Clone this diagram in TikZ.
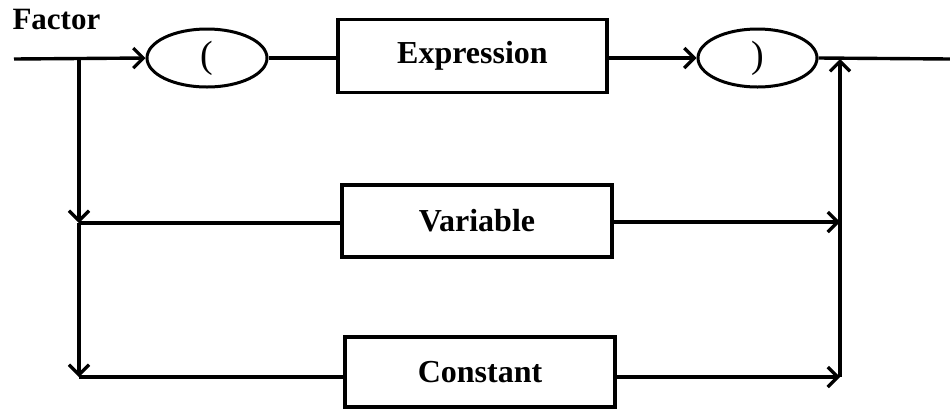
\documentclass[tikz,border=0pt]{standalone}
\usepackage{fontspec}
\setmainfont{Liberation Serif}
\usetikzlibrary{arrows.meta,shapes.geometric}
\begin{document}
\begin{tikzpicture}[x=1pt,y=-1pt,
  conn/.style={line width=3.4pt},
  arr/.style={conn,-{Straight Barb[length=10pt,width=20pt,line width=3.2pt]}},
  boxn/.style={draw,line width=3.4pt,rectangle,inner sep=0pt,font=\fontsize{32}{36}\selectfont\bfseries},
  ovaln/.style={draw,line width=3pt,ellipse,inner sep=0pt,font=\fontsize{38}{40}\selectfont}]
\useasboundingbox (0,0) rectangle (950,408);
\node[anchor=base west,font=\fontsize{31}{34}\selectfont\bfseries] (lab) at (9,29) {Factor};
\node[ovaln,minimum width=120pt,minimum height=58pt] (e1) at (207,58) {(};
\node[boxn,minimum width=269pt,minimum height=73pt] (expr) at (472.5,56) {Expression};
\node[ovaln,minimum width=119pt,minimum height=58pt] (e2) at (757.5,58) {)};
\node[boxn,minimum width=270pt,minimum height=72pt] (var) at (477,221) {Variable};
\node[boxn,minimum width=270pt,minimum height=70pt] (con) at (480,372) {Constant};
\coordinate (s) at (14,59);
\coordinate (jl) at (79,59);
\coordinate (lv) at (79,223);
\coordinate (lc) at (79,377);
\coordinate (jr) at (840,59);
\coordinate (rv) at (840,222);
\coordinate (rc) at (840,377);
\coordinate (t) at (950,59);
% main line
\draw[arr] (s) -- (e1.west);
\draw[conn] (e1.east) -- (e1.east -| expr.west);
\draw[arr] (expr.east |- e2.west) -- (e2.west);
\draw[conn] (e2.east) -- (t);
% left branches
\draw[arr] (jl) -- (lv);
\draw[arr] (lv) -- (lc);
\draw[conn] (lv) -- (lv -| var.west);
\draw[conn] (lc) -- (lc -| con.west);
% right branches
\draw[arr] (var.east |- rv) -- (rv);
\draw[arr] (con.east |- rc) -- (rc);
\draw[arr] (rc) -- (jr);
\end{tikzpicture}
\end{document}
